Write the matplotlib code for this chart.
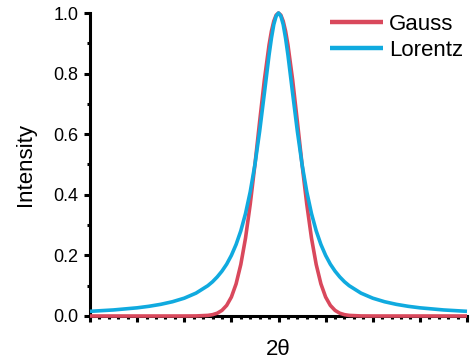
import matplotlib
matplotlib.use("Agg")
import matplotlib.pyplot as plt
from matplotlib.ticker import MultipleLocator, NullFormatter

plt.rcParams['font.family'] = ['Liberation Sans', 'DejaVu Sans']

# data (peak centred at 0, axis spans -4..4)
x_right = [0.0, 0.05, 0.1, 0.15, 0.2, 0.3, 0.4, 0.5, 0.6, 0.7, 0.8, 0.9, 1.0,
           1.1, 1.2, 1.3, 1.4, 1.5, 1.75, 2.0, 2.25, 2.5, 2.75, 3.0, 3.5, 4.0]
gauss_right = [1.0, 0.993, 0.973, 0.940, 0.895, 0.779, 0.642, 0.500, 0.369,
               0.257, 0.170, 0.106, 0.0625, 0.035, 0.0185, 0.0092, 0.0044,
               0.0020, 0.0002, 0.0, 0.0, 0.0, 0.0, 0.0, 0.0, 0.0]
lorentz_right = [1.0, 0.990, 0.962, 0.917, 0.862, 0.735, 0.610, 0.500, 0.410,
                 0.338, 0.281, 0.236, 0.200, 0.171, 0.148, 0.129, 0.113,
                 0.100, 0.0755, 0.0588, 0.0471, 0.0385, 0.0320, 0.0270,
                 0.0200, 0.0154]

x = [-v for v in x_right[:0:-1]] + x_right
gauss = gauss_right[:0:-1] + gauss_right
lorentz = lorentz_right[:0:-1] + lorentz_right

labels = ["Gauss", "Lorentz"]
colors = ["#D9485C", "#10AADF"]
y_ticks = [0.0, 0.2, 0.4, 0.6, 0.8, 1.0]

fig = plt.figure(figsize=(4.70, 3.62), dpi=100)
ax = fig.add_axes([90/470, 1-316/362, (467-90)/470, (316-13)/362])

ax.plot(x, gauss, color=colors[0], lw=2.6, label=labels[0], clip_on=False,
        solid_capstyle='butt', zorder=3)
ax.plot(x, lorentz, color=colors[1], lw=2.6, label=labels[1], clip_on=False,
        solid_capstyle='butt', zorder=4)

ax.set_xlim(-4, 4)
ax.set_ylim(0, 1.0)
ax.set_yticks(y_ticks)
ax.set_yticklabels([f"{v:.1f}" for v in y_ticks])
ax.yaxis.set_minor_locator(MultipleLocator(0.1))
ax.xaxis.set_major_locator(MultipleLocator(1))
ax.xaxis.set_minor_locator(MultipleLocator(0.2))
ax.xaxis.set_major_formatter(NullFormatter())

for s in ['top', 'right']:
    ax.spines[s].set_visible(False)
for s in ['left', 'bottom']:
    ax.spines[s].set_linewidth(2.2)
    ax.spines[s].set_zorder(2)

ax.tick_params(axis='both', which='major', length=4.5, width=2.2, direction='out',
               labelsize=13, pad=4)
ax.tick_params(axis='both', which='minor', length=2.4, width=2.2, direction='out')

ax.set_ylabel("Intensity", fontsize=16, labelpad=12)
ax.set_xlabel("2θ", fontsize=16, labelpad=8)

leg = fig.legend(loc='upper left', bbox_to_anchor=(330/470, 1-14/362),
                 frameon=False, fontsize=16, handlelength=2.4,
                 handletextpad=0.25, labelspacing=0.22, borderpad=0,
                 borderaxespad=0)
for h in leg.get_lines():
    h.set_linewidth(3.2)

fig.savefig("out.png", dpi=100)
